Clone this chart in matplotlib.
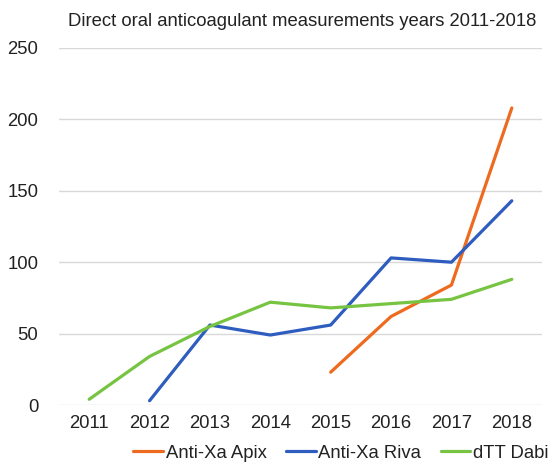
import matplotlib
matplotlib.use("Agg")
import matplotlib.pyplot as plt
import numpy as np

plt.rcParams['font.family'] = ['Liberation Sans', 'DejaVu Sans']

years = ["2011", "2012", "2013", "2014", "2015", "2016", "2017", "2018"]
apix = [None, None, None, None, 23, 62, 84, 208]
riva = [None, 3, 56, 49, 56, 103, 100, 143]
dabi = [4, 34, 55, 72, 68, 71, 74, 88]
series_names = ["Anti-Xa Apix", "Anti-Xa Riva", "dTT Dabi"]
colors = ["#ED6A1F", "#2E5CBF", "#77C443"]

fig = plt.figure(figsize=(5.52, 4.63), dpi=100)
ax = fig.add_axes([59/552, 1-405/463, (542-59)/552, (405-48)/463])

x = np.arange(len(years))
for vals, name, c in zip([apix, riva, dabi], series_names, colors):
    v = np.array([np.nan if a is None else a for a in vals], dtype=float)
    ax.plot(x, v, color=c, lw=2.3, label=name, solid_capstyle='round')

ax.set_xlim(-0.5, len(years) - 0.5)
ax.set_ylim(0, 250)
ax.set_yticks([0, 50, 100, 150, 200, 250])
ax.set_xticks(x)
ax.set_xticklabels(years)
ax.tick_params(length=0, labelsize=13.3, colors="#222222")
ax.tick_params(axis='y', pad=15)
ax.tick_params(axis='x', pad=7)
for lab in ax.get_yticklabels():
    lab.set_horizontalalignment('right')
ax.grid(axis='y', color="#D9D9D9", lw=1)
ax.set_axisbelow(True)
for s in ax.spines.values():
    s.set_visible(False)

fig.text(302/552, 1-21/463, "Direct oral anticoagulant measurements years 2011-2018",
         ha='center', va='center', fontsize=13.3, color="#222222")

leg = fig.legend(loc='center', bbox_to_anchor=(341/552, 1-453/463), ncol=3, frameon=False,
                 fontsize=13.3, handlelength=1.6, handletextpad=0.15, columnspacing=1.05,
                 borderpad=0.1, borderaxespad=0)
for t in leg.get_texts():
    t.set_color("#222222")

fig.savefig("out.png", dpi=100)
